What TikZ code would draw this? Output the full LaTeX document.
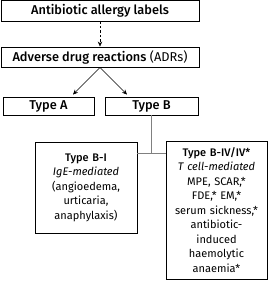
\documentclass[tikz,border=0pt]{standalone}
\usepackage{fontspec}
\setmainfont{Fira Sans}[BoldFont={Fira Sans Medium}]
\usetikzlibrary{arrows.meta, positioning}
\definecolor{linkgrey}{HTML}{808080}

\begin{document}
\begin{tikzpicture}[x=1pt, y=-1pt,
    box/.style={draw, line width=0.9pt, inner xsep=2pt, inner ysep=0pt, align=center,
        font=\fontsize{11}{14.5}\selectfont},
    topbox/.style={box, font=\fontsize{12.8}{15}\selectfont},
    arrow/.style={-{Stealth[length=5pt, width=4.5pt]}, line width=0.6pt},
    link/.style={draw=linkgrey, line width=1.4pt}]
    \useasboundingbox (0,0) rectangle (270,281);
    % top of the chain
    \node[topbox, minimum width=198pt, minimum height=21pt] (labels) at (100,10.5) {\textbf{Antibiotic allergy labels}};
    \node[topbox, minimum width=198pt, minimum height=20pt] (adr) at (100,57) {\textbf{Adverse drug reactions} (ADRs)};
    \node[topbox, minimum width=91pt, minimum height=18pt] (typea) at (48.5,106) {\textbf{Type A}};
    \node[topbox, minimum width=93pt, minimum height=18pt] (typeb) at (151.5,106) {\textbf{Type B}};
    % type B subgroups
    \node[box, text width=98pt, minimum height=91pt] (typebi) at (86,187.5) {\textbf{Type B-I}\\ \textit{IgE-mediated}\\ (angioedema,\\ urticaria,\\ anaphylaxis)};
    \node[box, text width=97pt, minimum height=138pt] (typebiv) at (216.5,210) {\textbf{Type B-IV/IV*}\\ \textit{T cell-mediated}\\ MPE, SCAR,*\\ FDE,* EM,*\\ serum sickness,*\\ antibiotic-\\ induced\\ haemolytic\\ anaemia*};
    % connectors
    \draw[arrow, dash pattern=on 2.5pt off 2pt] (labels) -- (adr);
    \draw[arrow] (adr.south) -- ([xshift=24.5pt, yshift=2pt]typea.north);
    \draw[arrow] (adr.south) -- ([xshift=-24.5pt, yshift=2pt]typeb.north);
    \draw[link] (typeb.south) -- ++(0,38) coordinate (fork);
    \draw[link] (typebi.east |- fork) -- (typebiv.west |- fork);
\end{tikzpicture}
\end{document}
